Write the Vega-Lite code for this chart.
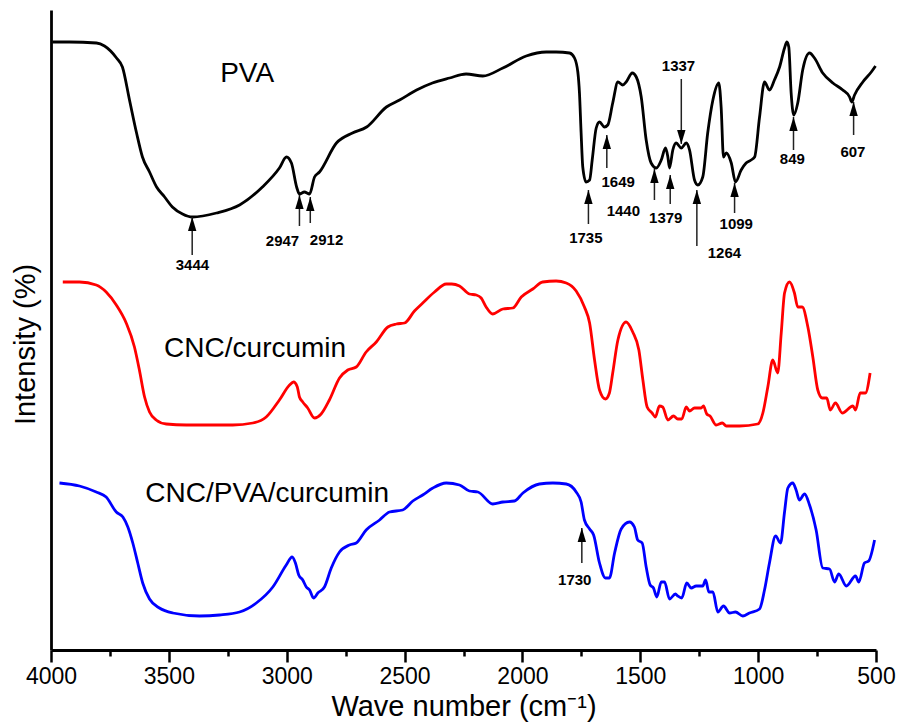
{
  "$schema": "https://vega.github.io/schema/vega-lite/v6.json",
  "width": 825,
  "height": 640,
  "autosize": "none",
  "padding": {"left": 51, "top": 10, "right": 33, "bottom": 76},
  "background": "white",
  "config": {"view": {"stroke": null}, "font": "Liberation Sans"},
  "datasets": {
    "spectra": [
      {"series": "PVA", "w": 3994, "v": 60.8},
      {"series": "PVA", "w": 3922, "v": 60.8},
      {"series": "PVA", "w": 3807, "v": 60.7},
      {"series": "PVA", "w": 3773, "v": 60.4},
      {"series": "PVA", "w": 3722, "v": 59.2},
      {"series": "PVA", "w": 3697, "v": 58.3},
      {"series": "PVA", "w": 3667, "v": 55.0},
      {"series": "PVA", "w": 3637, "v": 51.7},
      {"series": "PVA", "w": 3612, "v": 49.3},
      {"series": "PVA", "w": 3582, "v": 47.8},
      {"series": "PVA", "w": 3552, "v": 46.3},
      {"series": "PVA", "w": 3518, "v": 45.3},
      {"series": "PVA", "w": 3485, "v": 44.3},
      {"series": "PVA", "w": 3442, "v": 43.6},
      {"series": "PVA", "w": 3400, "v": 43.3},
      {"series": "PVA", "w": 3298, "v": 43.7},
      {"series": "PVA", "w": 3200, "v": 44.5},
      {"series": "PVA", "w": 3103, "v": 46.3},
      {"series": "PVA", "w": 3031, "v": 48.2},
      {"series": "PVA", "w": 3001, "v": 49.3},
      {"series": "PVA", "w": 2980, "v": 48.7},
      {"series": "PVA", "w": 2958, "v": 46.3},
      {"series": "PVA", "w": 2946, "v": 45.6},
      {"series": "PVA", "w": 2925, "v": 45.8},
      {"series": "PVA", "w": 2903, "v": 45.6},
      {"series": "PVA", "w": 2882, "v": 47.3},
      {"series": "PVA", "w": 2861, "v": 47.8},
      {"series": "PVA", "w": 2789, "v": 50.7},
      {"series": "PVA", "w": 2721, "v": 51.7},
      {"series": "PVA", "w": 2661, "v": 52.3},
      {"series": "PVA", "w": 2577, "v": 54.3},
      {"series": "PVA", "w": 2521, "v": 55.0},
      {"series": "PVA", "w": 2449, "v": 56.0},
      {"series": "PVA", "w": 2382, "v": 56.7},
      {"series": "PVA", "w": 2309, "v": 57.2},
      {"series": "PVA", "w": 2239, "v": 57.6},
      {"series": "PVA", "w": 2168, "v": 57.4},
      {"series": "PVA", "w": 2083, "v": 58.2},
      {"series": "PVA", "w": 1984, "v": 59.4},
      {"series": "PVA", "w": 1899, "v": 59.8},
      {"series": "PVA", "w": 1857, "v": 59.8},
      {"series": "PVA", "w": 1800, "v": 59.7},
      {"series": "PVA", "w": 1779, "v": 59.2},
      {"series": "PVA", "w": 1765, "v": 57.8},
      {"series": "PVA", "w": 1758, "v": 55.7},
      {"series": "PVA", "w": 1751, "v": 51.7},
      {"series": "PVA", "w": 1744, "v": 48.3},
      {"series": "PVA", "w": 1730, "v": 46.8},
      {"series": "PVA", "w": 1715, "v": 47.0},
      {"series": "PVA", "w": 1704, "v": 49.0},
      {"series": "PVA", "w": 1687, "v": 52.2},
      {"series": "PVA", "w": 1673, "v": 52.8},
      {"series": "PVA", "w": 1652, "v": 52.3},
      {"series": "PVA", "w": 1638, "v": 52.5},
      {"series": "PVA", "w": 1617, "v": 54.7},
      {"series": "PVA", "w": 1595, "v": 56.8},
      {"series": "PVA", "w": 1574, "v": 56.5},
      {"series": "PVA", "w": 1560, "v": 56.8},
      {"series": "PVA", "w": 1534, "v": 57.7},
      {"series": "PVA", "w": 1517, "v": 57.3},
      {"series": "PVA", "w": 1496, "v": 55.3},
      {"series": "PVA", "w": 1475, "v": 51.0},
      {"series": "PVA", "w": 1454, "v": 48.7},
      {"series": "PVA", "w": 1432, "v": 48.2},
      {"series": "PVA", "w": 1411, "v": 49.0},
      {"series": "PVA", "w": 1393, "v": 50.2},
      {"series": "PVA", "w": 1383, "v": 49.3},
      {"series": "PVA", "w": 1376, "v": 48.2},
      {"series": "PVA", "w": 1362, "v": 50.0},
      {"series": "PVA", "w": 1348, "v": 50.7},
      {"series": "PVA", "w": 1326, "v": 50.2},
      {"series": "PVA", "w": 1305, "v": 50.7},
      {"series": "PVA", "w": 1291, "v": 50.0},
      {"series": "PVA", "w": 1270, "v": 47.0},
      {"series": "PVA", "w": 1256, "v": 46.5},
      {"series": "PVA", "w": 1235, "v": 47.3},
      {"series": "PVA", "w": 1214, "v": 51.7},
      {"series": "PVA", "w": 1192, "v": 55.0},
      {"series": "PVA", "w": 1167, "v": 56.7},
      {"series": "PVA", "w": 1157, "v": 54.3},
      {"series": "PVA", "w": 1147, "v": 49.3},
      {"series": "PVA", "w": 1135, "v": 49.7},
      {"series": "PVA", "w": 1114, "v": 48.7},
      {"series": "PVA", "w": 1096, "v": 46.8},
      {"series": "PVA", "w": 1072, "v": 48.0},
      {"series": "PVA", "w": 1051, "v": 48.7},
      {"series": "PVA", "w": 1030, "v": 49.0},
      {"series": "PVA", "w": 1015, "v": 49.3},
      {"series": "PVA", "w": 994, "v": 53.3},
      {"series": "PVA", "w": 973, "v": 56.8},
      {"series": "PVA", "w": 952, "v": 56.0},
      {"series": "PVA", "w": 931, "v": 57.0},
      {"series": "PVA", "w": 909, "v": 58.3},
      {"series": "PVA", "w": 888, "v": 60.2},
      {"series": "PVA", "w": 878, "v": 60.8},
      {"series": "PVA", "w": 870, "v": 60.3},
      {"series": "PVA", "w": 860, "v": 55.7},
      {"series": "PVA", "w": 849, "v": 53.5},
      {"series": "PVA", "w": 832, "v": 54.7},
      {"series": "PVA", "w": 811, "v": 58.0},
      {"series": "PVA", "w": 782, "v": 59.7},
      {"series": "PVA", "w": 761, "v": 59.2},
      {"series": "PVA", "w": 726, "v": 57.7},
      {"series": "PVA", "w": 683, "v": 56.7},
      {"series": "PVA", "w": 641, "v": 56.0},
      {"series": "PVA", "w": 612, "v": 55.3},
      {"series": "PVA", "w": 603, "v": 54.8},
      {"series": "PVA", "w": 591, "v": 55.5},
      {"series": "PVA", "w": 556, "v": 56.8},
      {"series": "PVA", "w": 520, "v": 57.8},
      {"series": "PVA", "w": 502, "v": 58.4},

      {"series": "CNC/curcumin", "w": 3950, "v": 36.8},
      {"series": "CNC/curcumin", "w": 3879, "v": 36.8},
      {"series": "CNC/curcumin", "w": 3808, "v": 36.5},
      {"series": "CNC/curcumin", "w": 3766, "v": 35.8},
      {"series": "CNC/curcumin", "w": 3723, "v": 34.5},
      {"series": "CNC/curcumin", "w": 3681, "v": 32.7},
      {"series": "CNC/curcumin", "w": 3646, "v": 30.3},
      {"series": "CNC/curcumin", "w": 3625, "v": 28.0},
      {"series": "CNC/curcumin", "w": 3603, "v": 25.3},
      {"series": "CNC/curcumin", "w": 3582, "v": 23.8},
      {"series": "CNC/curcumin", "w": 3554, "v": 23.0},
      {"series": "CNC/curcumin", "w": 3511, "v": 22.6},
      {"series": "CNC/curcumin", "w": 3426, "v": 22.5},
      {"series": "CNC/curcumin", "w": 3229, "v": 22.5},
      {"series": "CNC/curcumin", "w": 3144, "v": 22.7},
      {"series": "CNC/curcumin", "w": 3087, "v": 23.3},
      {"series": "CNC/curcumin", "w": 3031, "v": 25.0},
      {"series": "CNC/curcumin", "w": 2988, "v": 26.5},
      {"series": "CNC/curcumin", "w": 2971, "v": 26.8},
      {"series": "CNC/curcumin", "w": 2955, "v": 26.3},
      {"series": "CNC/curcumin", "w": 2946, "v": 25.3},
      {"series": "CNC/curcumin", "w": 2932, "v": 24.8},
      {"series": "CNC/curcumin", "w": 2911, "v": 24.2},
      {"series": "CNC/curcumin", "w": 2882, "v": 23.2},
      {"series": "CNC/curcumin", "w": 2854, "v": 23.6},
      {"series": "CNC/curcumin", "w": 2819, "v": 25.0},
      {"series": "CNC/curcumin", "w": 2776, "v": 27.2},
      {"series": "CNC/curcumin", "w": 2741, "v": 28.0},
      {"series": "CNC/curcumin", "w": 2705, "v": 28.3},
      {"series": "CNC/curcumin", "w": 2663, "v": 29.8},
      {"series": "CNC/curcumin", "w": 2620, "v": 30.8},
      {"series": "CNC/curcumin", "w": 2571, "v": 32.3},
      {"series": "CNC/curcumin", "w": 2535, "v": 32.6},
      {"series": "CNC/curcumin", "w": 2500, "v": 32.7},
      {"series": "CNC/curcumin", "w": 2458, "v": 33.9},
      {"series": "CNC/curcumin", "w": 2423, "v": 34.7},
      {"series": "CNC/curcumin", "w": 2373, "v": 35.8},
      {"series": "CNC/curcumin", "w": 2323, "v": 36.6},
      {"series": "CNC/curcumin", "w": 2300, "v": 36.6},
      {"series": "CNC/curcumin", "w": 2267, "v": 36.4},
      {"series": "CNC/curcumin", "w": 2225, "v": 35.6},
      {"series": "CNC/curcumin", "w": 2196, "v": 35.5},
      {"series": "CNC/curcumin", "w": 2175, "v": 35.2},
      {"series": "CNC/curcumin", "w": 2154, "v": 34.3},
      {"series": "CNC/curcumin", "w": 2126, "v": 33.6},
      {"series": "CNC/curcumin", "w": 2083, "v": 34.1},
      {"series": "CNC/curcumin", "w": 2041, "v": 34.2},
      {"series": "CNC/curcumin", "w": 2005, "v": 35.3},
      {"series": "CNC/curcumin", "w": 1956, "v": 36.1},
      {"series": "CNC/curcumin", "w": 1914, "v": 36.8},
      {"series": "CNC/curcumin", "w": 1857, "v": 36.9},
      {"series": "CNC/curcumin", "w": 1814, "v": 36.7},
      {"series": "CNC/curcumin", "w": 1772, "v": 35.9},
      {"series": "CNC/curcumin", "w": 1737, "v": 34.3},
      {"series": "CNC/curcumin", "w": 1715, "v": 32.7},
      {"series": "CNC/curcumin", "w": 1694, "v": 29.0},
      {"series": "CNC/curcumin", "w": 1673, "v": 26.0},
      {"series": "CNC/curcumin", "w": 1648, "v": 25.1},
      {"series": "CNC/curcumin", "w": 1631, "v": 25.7},
      {"series": "CNC/curcumin", "w": 1617, "v": 27.7},
      {"series": "CNC/curcumin", "w": 1595, "v": 31.0},
      {"series": "CNC/curcumin", "w": 1560, "v": 32.8},
      {"series": "CNC/curcumin", "w": 1532, "v": 31.8},
      {"series": "CNC/curcumin", "w": 1506, "v": 30.0},
      {"series": "CNC/curcumin", "w": 1489, "v": 27.0},
      {"series": "CNC/curcumin", "w": 1471, "v": 24.3},
      {"series": "CNC/curcumin", "w": 1450, "v": 23.7},
      {"series": "CNC/curcumin", "w": 1436, "v": 23.3},
      {"series": "CNC/curcumin", "w": 1419, "v": 24.4},
      {"series": "CNC/curcumin", "w": 1405, "v": 24.3},
      {"series": "CNC/curcumin", "w": 1383, "v": 23.0},
      {"series": "CNC/curcumin", "w": 1359, "v": 23.4},
      {"series": "CNC/curcumin", "w": 1341, "v": 23.1},
      {"series": "CNC/curcumin", "w": 1324, "v": 23.1},
      {"series": "CNC/curcumin", "w": 1305, "v": 24.3},
      {"series": "CNC/curcumin", "w": 1291, "v": 23.9},
      {"series": "CNC/curcumin", "w": 1270, "v": 24.2},
      {"series": "CNC/curcumin", "w": 1242, "v": 24.2},
      {"series": "CNC/curcumin", "w": 1232, "v": 24.4},
      {"series": "CNC/curcumin", "w": 1218, "v": 23.6},
      {"series": "CNC/curcumin", "w": 1204, "v": 23.4},
      {"series": "CNC/curcumin", "w": 1178, "v": 22.5},
      {"series": "CNC/curcumin", "w": 1152, "v": 22.7},
      {"series": "CNC/curcumin", "w": 1135, "v": 22.4},
      {"series": "CNC/curcumin", "w": 1079, "v": 22.4},
      {"series": "CNC/curcumin", "w": 1002, "v": 22.6},
      {"series": "CNC/curcumin", "w": 980, "v": 23.7},
      {"series": "CNC/curcumin", "w": 959, "v": 26.3},
      {"series": "CNC/curcumin", "w": 938, "v": 29.0},
      {"series": "CNC/curcumin", "w": 917, "v": 27.7},
      {"series": "CNC/curcumin", "w": 902, "v": 31.7},
      {"series": "CNC/curcumin", "w": 888, "v": 35.7},
      {"series": "CNC/curcumin", "w": 867, "v": 36.8},
      {"series": "CNC/curcumin", "w": 846, "v": 35.7},
      {"series": "CNC/curcumin", "w": 832, "v": 34.3},
      {"series": "CNC/curcumin", "w": 813, "v": 34.3},
      {"series": "CNC/curcumin", "w": 789, "v": 32.3},
      {"series": "CNC/curcumin", "w": 768, "v": 29.3},
      {"series": "CNC/curcumin", "w": 747, "v": 26.0},
      {"series": "CNC/curcumin", "w": 728, "v": 25.2},
      {"series": "CNC/curcumin", "w": 709, "v": 25.2},
      {"series": "CNC/curcumin", "w": 694, "v": 24.0},
      {"series": "CNC/curcumin", "w": 672, "v": 24.7},
      {"series": "CNC/curcumin", "w": 643, "v": 23.7},
      {"series": "CNC/curcumin", "w": 598, "v": 24.4},
      {"series": "CNC/curcumin", "w": 587, "v": 24.0},
      {"series": "CNC/curcumin", "w": 567, "v": 25.7},
      {"series": "CNC/curcumin", "w": 545, "v": 25.7},
      {"series": "CNC/curcumin", "w": 525, "v": 27.7},

      {"series": "CNC/PVA/curcumin", "w": 3964, "v": 16.7},
      {"series": "CNC/PVA/curcumin", "w": 3879, "v": 16.4},
      {"series": "CNC/PVA/curcumin", "w": 3808, "v": 15.8},
      {"series": "CNC/PVA/curcumin", "w": 3766, "v": 15.3},
      {"series": "CNC/PVA/curcumin", "w": 3723, "v": 13.8},
      {"series": "CNC/PVA/curcumin", "w": 3695, "v": 13.3},
      {"series": "CNC/PVA/curcumin", "w": 3674, "v": 12.3},
      {"series": "CNC/PVA/curcumin", "w": 3653, "v": 10.7},
      {"series": "CNC/PVA/curcumin", "w": 3632, "v": 8.7},
      {"series": "CNC/PVA/curcumin", "w": 3611, "v": 6.7},
      {"series": "CNC/PVA/curcumin", "w": 3582, "v": 5.1},
      {"series": "CNC/PVA/curcumin", "w": 3540, "v": 4.2},
      {"series": "CNC/PVA/curcumin", "w": 3483, "v": 3.7},
      {"series": "CNC/PVA/curcumin", "w": 3370, "v": 3.4},
      {"series": "CNC/PVA/curcumin", "w": 3285, "v": 3.5},
      {"series": "CNC/PVA/curcumin", "w": 3200, "v": 3.8},
      {"series": "CNC/PVA/curcumin", "w": 3129, "v": 4.7},
      {"series": "CNC/PVA/curcumin", "w": 3059, "v": 6.3},
      {"series": "CNC/PVA/curcumin", "w": 3002, "v": 8.5},
      {"series": "CNC/PVA/curcumin", "w": 2977, "v": 9.3},
      {"series": "CNC/PVA/curcumin", "w": 2963, "v": 8.7},
      {"series": "CNC/PVA/curcumin", "w": 2949, "v": 7.5},
      {"series": "CNC/PVA/curcumin", "w": 2932, "v": 7.0},
      {"series": "CNC/PVA/curcumin", "w": 2917, "v": 6.3},
      {"series": "CNC/PVA/curcumin", "w": 2903, "v": 6.0},
      {"series": "CNC/PVA/curcumin", "w": 2886, "v": 5.2},
      {"series": "CNC/PVA/curcumin", "w": 2868, "v": 5.7},
      {"series": "CNC/PVA/curcumin", "w": 2840, "v": 6.3},
      {"series": "CNC/PVA/curcumin", "w": 2811, "v": 8.2},
      {"series": "CNC/PVA/curcumin", "w": 2776, "v": 9.8},
      {"series": "CNC/PVA/curcumin", "w": 2734, "v": 10.5},
      {"series": "CNC/PVA/curcumin", "w": 2705, "v": 10.7},
      {"series": "CNC/PVA/curcumin", "w": 2663, "v": 12.0},
      {"series": "CNC/PVA/curcumin", "w": 2606, "v": 13.0},
      {"series": "CNC/PVA/curcumin", "w": 2564, "v": 13.8},
      {"series": "CNC/PVA/curcumin", "w": 2508, "v": 14.0},
      {"series": "CNC/PVA/curcumin", "w": 2465, "v": 14.9},
      {"series": "CNC/PVA/curcumin", "w": 2423, "v": 15.5},
      {"series": "CNC/PVA/curcumin", "w": 2380, "v": 16.2},
      {"series": "CNC/PVA/curcumin", "w": 2323, "v": 16.7},
      {"series": "CNC/PVA/curcumin", "w": 2267, "v": 16.5},
      {"series": "CNC/PVA/curcumin", "w": 2225, "v": 15.9},
      {"series": "CNC/PVA/curcumin", "w": 2189, "v": 15.8},
      {"series": "CNC/PVA/curcumin", "w": 2126, "v": 14.6},
      {"series": "CNC/PVA/curcumin", "w": 2083, "v": 14.8},
      {"series": "CNC/PVA/curcumin", "w": 2034, "v": 14.9},
      {"series": "CNC/PVA/curcumin", "w": 1998, "v": 15.7},
      {"series": "CNC/PVA/curcumin", "w": 1928, "v": 16.6},
      {"series": "CNC/PVA/curcumin", "w": 1871, "v": 16.7},
      {"series": "CNC/PVA/curcumin", "w": 1814, "v": 16.6},
      {"series": "CNC/PVA/curcumin", "w": 1772, "v": 15.8},
      {"series": "CNC/PVA/curcumin", "w": 1751, "v": 14.8},
      {"series": "CNC/PVA/curcumin", "w": 1737, "v": 13.0},
      {"series": "CNC/PVA/curcumin", "w": 1715, "v": 12.1},
      {"series": "CNC/PVA/curcumin", "w": 1698, "v": 11.5},
      {"series": "CNC/PVA/curcumin", "w": 1673, "v": 8.7},
      {"series": "CNC/PVA/curcumin", "w": 1648, "v": 7.2},
      {"series": "CNC/PVA/curcumin", "w": 1631, "v": 7.2},
      {"series": "CNC/PVA/curcumin", "w": 1609, "v": 9.7},
      {"series": "CNC/PVA/curcumin", "w": 1581, "v": 12.1},
      {"series": "CNC/PVA/curcumin", "w": 1546, "v": 12.8},
      {"series": "CNC/PVA/curcumin", "w": 1525, "v": 12.3},
      {"series": "CNC/PVA/curcumin", "w": 1511, "v": 11.0},
      {"series": "CNC/PVA/curcumin", "w": 1492, "v": 10.7},
      {"series": "CNC/PVA/curcumin", "w": 1475, "v": 8.3},
      {"series": "CNC/PVA/curcumin", "w": 1458, "v": 6.5},
      {"series": "CNC/PVA/curcumin", "w": 1444, "v": 6.2},
      {"series": "CNC/PVA/curcumin", "w": 1430, "v": 5.3},
      {"series": "CNC/PVA/curcumin", "w": 1411, "v": 6.8},
      {"series": "CNC/PVA/curcumin", "w": 1397, "v": 6.8},
      {"series": "CNC/PVA/curcumin", "w": 1376, "v": 5.1},
      {"series": "CNC/PVA/curcumin", "w": 1351, "v": 5.6},
      {"series": "CNC/PVA/curcumin", "w": 1341, "v": 5.4},
      {"series": "CNC/PVA/curcumin", "w": 1324, "v": 5.2},
      {"series": "CNC/PVA/curcumin", "w": 1303, "v": 6.7},
      {"series": "CNC/PVA/curcumin", "w": 1284, "v": 6.2},
      {"series": "CNC/PVA/curcumin", "w": 1263, "v": 6.4},
      {"series": "CNC/PVA/curcumin", "w": 1235, "v": 6.4},
      {"series": "CNC/PVA/curcumin", "w": 1223, "v": 7.0},
      {"series": "CNC/PVA/curcumin", "w": 1209, "v": 5.8},
      {"series": "CNC/PVA/curcumin", "w": 1192, "v": 5.8},
      {"series": "CNC/PVA/curcumin", "w": 1171, "v": 3.8},
      {"series": "CNC/PVA/curcumin", "w": 1147, "v": 4.4},
      {"series": "CNC/PVA/curcumin", "w": 1121, "v": 3.7},
      {"series": "CNC/PVA/curcumin", "w": 1096, "v": 3.8},
      {"series": "CNC/PVA/curcumin", "w": 1065, "v": 3.4},
      {"series": "CNC/PVA/curcumin", "w": 1037, "v": 3.7},
      {"series": "CNC/PVA/curcumin", "w": 994, "v": 4.1},
      {"series": "CNC/PVA/curcumin", "w": 973, "v": 6.0},
      {"series": "CNC/PVA/curcumin", "w": 952, "v": 8.7},
      {"series": "CNC/PVA/curcumin", "w": 926, "v": 11.4},
      {"series": "CNC/PVA/curcumin", "w": 905, "v": 10.7},
      {"series": "CNC/PVA/curcumin", "w": 888, "v": 13.8},
      {"series": "CNC/PVA/curcumin", "w": 874, "v": 16.2},
      {"series": "CNC/PVA/curcumin", "w": 853, "v": 16.7},
      {"series": "CNC/PVA/curcumin", "w": 839, "v": 16.0},
      {"series": "CNC/PVA/curcumin", "w": 825, "v": 15.0},
      {"series": "CNC/PVA/curcumin", "w": 803, "v": 15.6},
      {"series": "CNC/PVA/curcumin", "w": 782, "v": 14.5},
      {"series": "CNC/PVA/curcumin", "w": 754, "v": 12.0},
      {"series": "CNC/PVA/curcumin", "w": 726, "v": 8.2},
      {"series": "CNC/PVA/curcumin", "w": 697, "v": 8.1},
      {"series": "CNC/PVA/curcumin", "w": 676, "v": 6.8},
      {"series": "CNC/PVA/curcumin", "w": 658, "v": 7.6},
      {"series": "CNC/PVA/curcumin", "w": 626, "v": 6.4},
      {"series": "CNC/PVA/curcumin", "w": 587, "v": 7.4},
      {"series": "CNC/PVA/curcumin", "w": 573, "v": 6.8},
      {"series": "CNC/PVA/curcumin", "w": 549, "v": 8.7},
      {"series": "CNC/PVA/curcumin", "w": 531, "v": 8.9},
      {"series": "CNC/PVA/curcumin", "w": 506, "v": 11.0}
    ],
    "arrows": [
      {"peak": "3444", "w": 3401, "tail": 39.5, "tip": 43.3, "dir": "up"},
      {"peak": "2947", "w": 2946, "tail": 42.4, "tip": 45.5, "dir": "up"},
      {"peak": "2912", "w": 2900, "tail": 42.7, "tip": 45.3, "dir": "up"},
      {"peak": "1735", "w": 1720, "tail": 42.6, "tip": 46.0, "dir": "up"},
      {"peak": "1649", "w": 1642, "tail": 48.2, "tip": 51.5, "dir": "up"},
      {"peak": "1440", "w": 1440, "tail": 45.0, "tip": 48.1, "dir": "up"},
      {"peak": "1379", "w": 1373, "tail": 44.6, "tip": 47.5, "dir": "up"},
      {"peak": "1337", "w": 1326, "tail": 57.1, "tip": 50.6, "dir": "down"},
      {"peak": "1264", "w": 1260, "tail": 40.4, "tip": 46.0, "dir": "up"},
      {"peak": "1099", "w": 1100, "tail": 43.7, "tip": 46.7, "dir": "up"},
      {"peak": "849", "w": 850, "tail": 50.0, "tip": 53.3, "dir": "up"},
      {"peak": "607", "w": 595, "tail": 51.5, "tip": 54.8, "dir": "up"},
      {"peak": "1730", "w": 1748, "tail": 8.7, "tip": 12.2, "dir": "up"}
    ],
    "peakLabels": [
      {"text": "3444", "w": 3400, "v": 38.5},
      {"text": "2947", "w": 3018, "v": 40.9},
      {"text": "2912", "w": 2831, "v": 41.0},
      {"text": "1735", "w": 1731, "v": 41.2},
      {"text": "1649", "w": 1594, "v": 46.8},
      {"text": "1440", "w": 1572, "v": 43.9},
      {"text": "1379", "w": 1392, "v": 43.2},
      {"text": "1337", "w": 1338, "v": 58.4},
      {"text": "1264", "w": 1143, "v": 39.7},
      {"text": "1099", "w": 1093, "v": 42.6},
      {"text": "849", "w": 855, "v": 49.1},
      {"text": "607", "w": 598, "v": 49.8},
      {"text": "1730", "w": 1778, "v": 7.0}
    ],
    "seriesLabels": [
      {"text": "PVA", "w": 3168, "v": 57.6},
      {"text": "CNC/curcumin", "w": 3134, "v": 30.1},
      {"text": "CNC/PVA/curcumin", "w": 3083, "v": 15.6}
    ]
  },
  "layer": [
    {
      "data": {"name": "spectra"},
      "mark": {"type": "line", "strokeWidth": 2.8, "interpolate": "monotone"},
      "encoding": {
        "x": {
          "field": "w", "type": "quantitative",
          "scale": {"domain": [500, 4000], "reverse": true, "nice": false, "zero": false},
          "axis": {
            "title": "Wave number (cm⁻¹)",
            "values": [4000, 3750, 3500, 3250, 3000, 2750, 2500, 2250, 2000, 1750, 1500, 1250, 1000, 750, 500],
            "labelExpr": "datum.value % 500 === 0 ? datum.value : ''",
            "grid": false,
            "domainColor": "black", "domainWidth": 2.8,
            "tickColor": "black", "tickWidth": 2.5,
            "tickSize": {"condition": {"test": "datum.value % 500 === 0", "value": 12}, "value": 6},
            "labelFont": "Liberation Sans", "labelFontSize": 23, "labelColor": "black",
            "labelPadding": 3, "labelOverlap": false, "labelFlush": false,
            "titleFont": "Liberation Sans", "titleFontSize": 29, "titleFontWeight": "normal",
            "titleColor": "black", "titlePadding": 4
          }
        },
        "y": {
          "field": "v", "type": "quantitative",
          "scale": {"domain": [0, 64], "nice": false, "zero": false},
          "axis": {
            "title": "Intensity (%)",
            "ticks": false, "labels": false, "grid": false,
            "domainColor": "black", "domainWidth": 2.8,
            "titleFont": "Liberation Sans", "titleFontSize": 29, "titleFontWeight": "normal",
            "titleColor": "black", "titlePadding": 11, "titleY": 334
          }
        },
        "color": {
          "field": "series", "type": "nominal",
          "scale": {"domain": ["PVA", "CNC/curcumin", "CNC/PVA/curcumin"], "range": ["#000000", "#ff0000", "#0000ff"]},
          "legend": null
        }
      }
    },
    {
      "data": {"name": "arrows"},
      "mark": {"type": "rule", "strokeWidth": 1.5, "color": "#222222"},
      "encoding": {
        "x": {"field": "w", "type": "quantitative"},
        "y": {"field": "tail", "type": "quantitative"},
        "y2": {"field": "tip"}
      }
    },
    {
      "data": {"name": "arrows"},
      "transform": [{"filter": "datum.dir === 'up'"}],
      "mark": {"type": "point", "shape": "M0,0L-0.6,2L0.6,2Z", "filled": true, "size": 196, "color": "black", "opacity": 1, "strokeWidth": 0},
      "encoding": {
        "x": {"field": "w", "type": "quantitative"},
        "y": {"field": "tip", "type": "quantitative"}
      }
    },
    {
      "data": {"name": "arrows"},
      "transform": [{"filter": "datum.dir === 'down'"}],
      "mark": {"type": "point", "shape": "M0,0L-0.6,-2L0.6,-2Z", "filled": true, "size": 196, "color": "black", "opacity": 1, "strokeWidth": 0},
      "encoding": {
        "x": {"field": "w", "type": "quantitative"},
        "y": {"field": "tip", "type": "quantitative"}
      }
    },
    {
      "data": {"name": "peakLabels"},
      "mark": {"type": "text", "font": "Liberation Sans", "fontWeight": "bold", "fontSize": 15, "color": "black", "align": "center", "baseline": "middle"},
      "encoding": {
        "x": {"field": "w", "type": "quantitative"},
        "y": {"field": "v", "type": "quantitative"},
        "text": {"field": "text"}
      }
    },
    {
      "data": {"name": "seriesLabels"},
      "mark": {"type": "text", "font": "Liberation Sans", "fontSize": 28, "color": "black", "align": "center", "baseline": "middle"},
      "encoding": {
        "x": {"field": "w", "type": "quantitative"},
        "y": {"field": "v", "type": "quantitative"},
        "text": {"field": "text"}
      }
    }
  ]
}
